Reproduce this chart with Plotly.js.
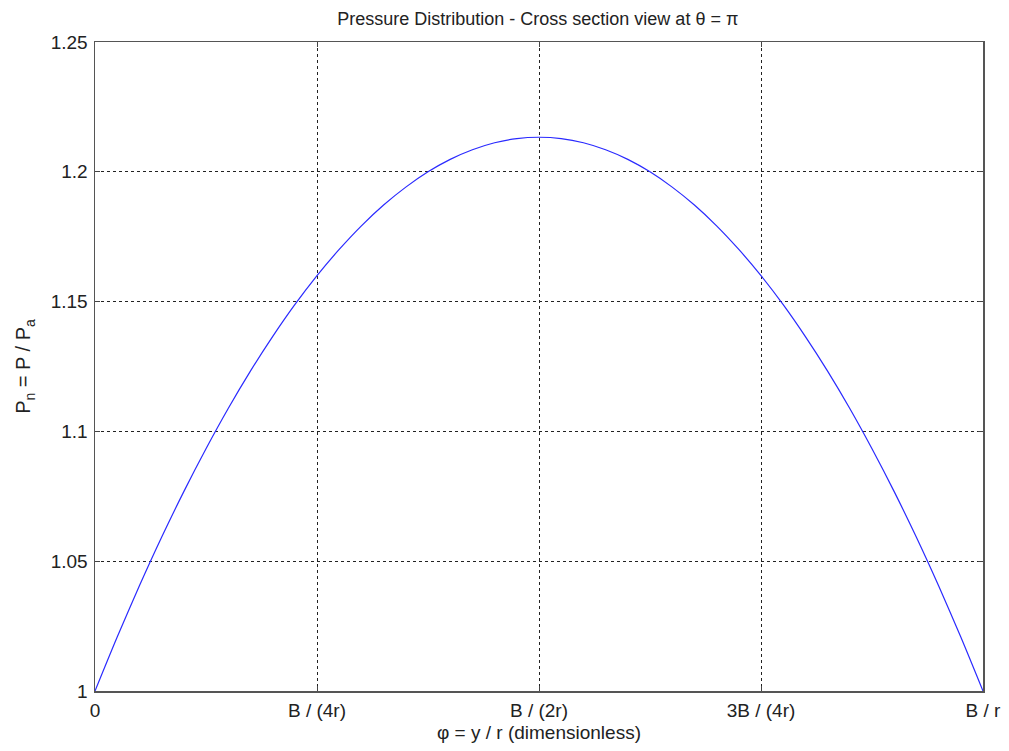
<!DOCTYPE html>
<html>
<head>
<meta charset="utf-8">
<script src="https://cdn.plot.ly/plotly-3.0.1.min.js"></script>
<style>html,body{margin:0;padding:0;background:#fff;}#chart{width:1009px;height:751px;}</style>
</head>
<body>
<div id="chart"></div>
<script>
// Dimensionless position phi (fraction of B/r)
const phi = [0, 0.025, 0.05, 0.075, 0.1, 0.125, 0.15, 0.175, 0.2, 0.225, 0.25,
             0.275, 0.3, 0.325, 0.35, 0.375, 0.4, 0.425, 0.45, 0.475, 0.5,
             0.525, 0.55, 0.575, 0.6, 0.625, 0.65, 0.675, 0.7, 0.725, 0.75,
             0.775, 0.8, 0.825, 0.85, 0.875, 0.9, 0.925, 0.95, 0.975, 1];
// Normalised pressure Pn = P / Pa
const pn = [1.0000, 1.0208, 1.0405, 1.0592, 1.0768, 1.0933, 1.1088, 1.1232, 1.1365, 1.1488, 1.1600,
            1.1701, 1.1792, 1.1872, 1.1941, 1.2000, 1.2048, 1.2085, 1.2112, 1.2128, 1.2133,
            1.2128, 1.2112, 1.2085, 1.2048, 1.2000, 1.1941, 1.1872, 1.1792, 1.1701, 1.1600,
            1.1488, 1.1365, 1.1232, 1.1088, 1.0933, 1.0768, 1.0592, 1.0405, 1.0208, 1.0000];
const xTickVals = [0, 0.25, 0.5, 0.75, 1];
const xTickText = ["0", "B / (4r)", "B / (2r)", "3B / (4r)", "B / r"];
const yTickVals = [1, 1.05, 1.1, 1.15, 1.2, 1.25];
const yTickText = ["1", "1.05", "1.1", "1.15", "1.2", "1.25"];

const fontFam = "Liberation Sans, Arial, sans-serif";

const trace = {
  x: phi, y: pn, type: "scatter", mode: "lines",
  line: {color: "#2a2aff", width: 1.2, shape: "spline", smoothing: 0.8},
  hoverinfo: "x+y"
};

const axisCommon = {
  showline: true, linecolor: "#555", linewidth: 1.5, mirror: "ticks",
  ticks: "inside", ticklen: 5, tickcolor: "#444", tickwidth: 1,
  showgrid: true, gridcolor: "#222", gridwidth: 1, griddash: "3px,3px",
  zeroline: false,
  tickfont: {family: fontFam, size: 19, color: "#222"}
};

const layout = {
  width: 1009, height: 751,
  margin: {l: 95, r: 26, t: 42, b: 60},
  paper_bgcolor: "#fff", plot_bgcolor: "#fff",
  showlegend: false,
  title: {text: "Pressure Distribution - Cross section view at θ = π",
          font: {family: fontFam, size: 18, color: "#222"},
          x: 0.533, xanchor: "center", y: 0.975, yanchor: "middle"},
  xaxis: Object.assign({}, axisCommon, {
    range: [0, 1], tickmode: "array", tickvals: xTickVals, ticktext: xTickText,
    ticklabelstandoff: 2,
    title: {text: "φ = y / r (dimensionless)", font: {family: fontFam, size: 19, color: "#222"}, standoff: 5}
  }),
  yaxis: Object.assign({}, axisCommon, {
    range: [1, 1.25], tickmode: "array", tickvals: yTickVals, ticktext: yTickText,
    ticklabelstandoff: 2,
    title: {text: "P<sub>n</sub> = P / P<sub>a</sub>", font: {family: fontFam, size: 20, color: "#222"}, standoff: 14}
  })
};

Plotly.newPlot("chart", [trace], layout, {displayModeBar: false, staticPlot: true});
</script>
</body>
</html>
